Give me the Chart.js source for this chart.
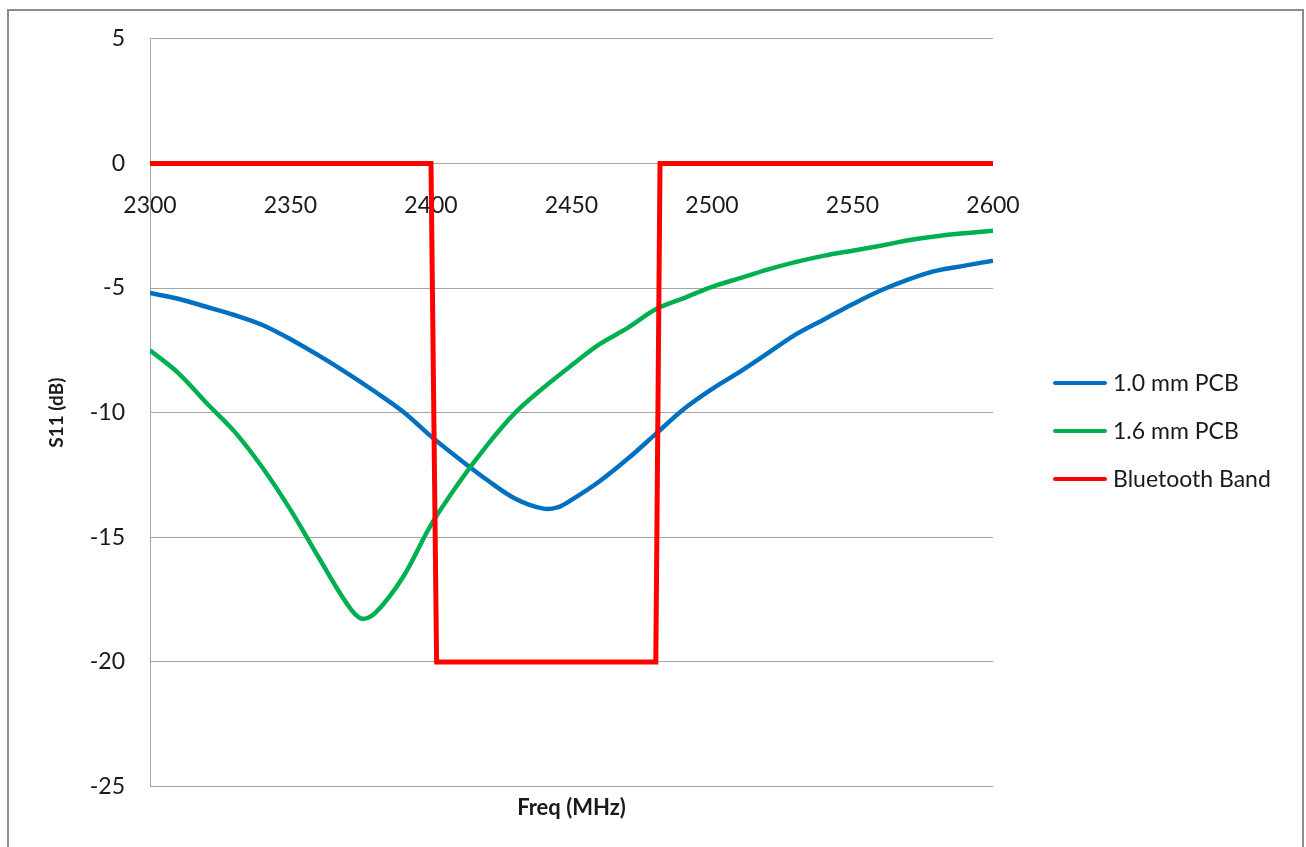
<!DOCTYPE html>
<html>
<head>
<meta charset="utf-8">
<title>S11 vs Freq</title>
<script src="https://cdn.jsdelivr.net/npm/chart.js@4.4.1/dist/chart.umd.min.js"></script>
<style>
  html, body { margin: 0; padding: 0; background: #fff; }
  #frame {
    position: absolute; left: 7px; top: 9px; width: 1293px; height: 900px;
    border: 2px solid #8c8c8c; border-bottom: none;
  }
  #wrap { position: absolute; left: 0; top: 0; width: 1306px; height: 847px; }
</style>
</head>
<body>
<div id="frame"></div>
<div id="wrap"><canvas id="s11Chart"></canvas></div>
<script>
// S11 chart - 1.0 mm vs 1.6 mm PCB against the Bluetooth band

// 1.0 mm PCB
const thinFreq = [2300, 2310, 2320, 2330, 2340, 2350, 2360, 2370, 2380, 2390, 2400, 2410, 2420, 2430, 2440, 2445,
                  2450, 2460, 2470, 2480, 2490, 2500, 2510, 2520, 2530, 2540, 2550, 2560, 2570, 2580, 2590, 2600];
const thinS11 = [-5.2, -5.43, -5.75, -6.08, -6.48, -7.05, -7.7, -8.4, -9.15, -9.95, -10.95, -11.85, -12.7, -13.45, -13.85, -13.8,
                 -13.5, -12.75, -11.85, -10.85, -9.85, -9.05, -8.35, -7.6, -6.85, -6.25, -5.65, -5.1, -4.65, -4.3, -4.1, -3.9];

// 1.6 mm PCB
const thickFreq = [2300, 2310, 2320, 2330, 2340, 2350, 2360, 2370, 2375, 2380, 2390, 2400, 2410, 2420, 2430, 2440,
                   2450, 2460, 2470, 2480, 2490, 2500, 2510, 2520, 2530, 2540, 2550, 2560, 2570, 2580, 2590, 2600];
const thickS11 = [-7.5, -8.4, -9.6, -10.75, -12.2, -13.9, -15.8, -17.65, -18.25, -18.05, -16.6, -14.5, -12.8, -11.3, -10.0, -9.0,
                  -8.1, -7.25, -6.6, -5.85, -5.4, -4.95, -4.6, -4.25, -3.95, -3.7, -3.5, -3.3, -3.08, -2.92, -2.8, -2.7];

// Bluetooth band mask
const bandFreq = [2300, 2400, 2402, 2480, 2481.5, 2600];
const bandS11 = [0, 0, -20, -20, 0, 0];

const xTicks = [2300, 2350, 2400, 2450, 2500, 2550, 2600];
const yTicks = [5, 0, -5, -10, -15, -20, -25];

const toPoints = (xs, ys) => xs.map((x, i) => ({ x: x, y: ys[i] }));

Chart.defaults.font.family = "Lato, 'Open Sans', sans-serif";
Chart.defaults.color = '#1a1a1a';

// Legend drawn as Excel does it: short line + label, right of the plot
const lineLegend = {
    id: 'lineLegend',
    afterDraw(chart, args, opts) {
        const ctx = chart.ctx;
        ctx.save();
        ctx.font = opts.font;
        ctx.textBaseline = 'middle';
        ctx.textAlign = 'left';
        chart.data.datasets.forEach((ds, i) => {
            const y = opts.top + i * opts.step;
            ctx.strokeStyle = ds.borderColor;
            ctx.lineWidth = 4;
            ctx.lineCap = 'round';
            ctx.beginPath();
            ctx.moveTo(opts.left, y);
            ctx.lineTo(opts.left + opts.lineLength, y);
            ctx.stroke();
            ctx.fillStyle = '#1a1a1a';
            ctx.fillText(ds.label, opts.left + opts.lineLength + 8, y + 1);
        });
        ctx.restore();
    }
};

const ctx = document.getElementById('s11Chart').getContext('2d');

new Chart(ctx, {
    type: 'line',
    data: {
        datasets: [
            {
                label: '1.0 mm PCB',
                data: toPoints(thinFreq, thinS11),
                borderColor: '#0070C0',
                backgroundColor: '#0070C0',
                borderWidth: 4.5,
                pointRadius: 0,
                tension: 0.35,
                order: 2
            },
            {
                label: '1.6 mm PCB',
                data: toPoints(thickFreq, thickS11),
                borderColor: '#00B050',
                backgroundColor: '#00B050',
                borderWidth: 4.5,
                pointRadius: 0,
                tension: 0.35,
                order: 1
            },
            {
                label: 'Bluetooth Band',
                data: toPoints(bandFreq, bandS11),
                borderColor: '#FF0000',
                backgroundColor: '#FF0000',
                borderWidth: 5,
                pointRadius: 0,
                tension: 0,
                order: 0
            }
        ]
    },
    options: {
        responsive: true,
        maintainAspectRatio: false,
        animation: false,
        events: [],
        layout: {
            padding: { left: 0, top: 38, right: 313, bottom: 26 }
        },
        plugins: {
            legend: { display: false },
            tooltip: { enabled: false },
            title: {
                display: true,
                text: 'Freq (MHz)',
                position: 'bottom',
                fullSize: false,
                color: '#1a1a1a',
                font: { size: 22, weight: 'bold' },
                padding: { top: 8, bottom: 0 }
            },
            lineLegend: {
                left: 1055,
                top: 383,
                step: 48,
                lineLength: 50,
                font: "23px Lato, 'Open Sans', sans-serif"
            }
        },
        scales: {
            x: {
                type: 'linear',
                position: { y: 0 },
                min: 2300,
                max: 2600,
                afterBuildTicks: (scale) => { scale.ticks = xTicks.map(v => ({ value: v })); },
                grid: { display: false, drawTicks: false },
                border: { display: false },
                ticks: {
                    padding: 28,
                    font: { size: 23 },
                    maxRotation: 0,
                    callback: (v) => String(v)
                }
            },
            y: {
                type: 'linear',
                min: -25,
                max: 5,
                afterBuildTicks: (scale) => { scale.ticks = yTicks.map(v => ({ value: v })); },
                afterFit: (scale) => { scale.width = 150; },
                grid: { color: '#a6a6a6', lineWidth: 1, drawTicks: false },
                border: { display: true, color: '#a6a6a6', width: 1 },
                ticks: {
                    padding: 25,
                    font: { size: 23 }
                },
                title: {
                    display: true,
                    text: 'S11 (dB)',
                    color: '#1a1a1a',
                    font: { size: 19, weight: 'bold' },
                    padding: { top: 45, bottom: 0 }
                }
            }
        }
    },
    plugins: [lineLegend]
});
</script>
</body>
</html>
